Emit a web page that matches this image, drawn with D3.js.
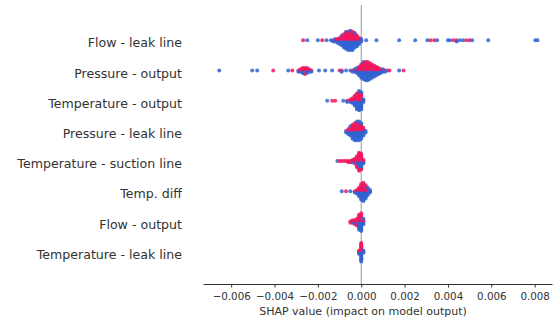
<!DOCTYPE html>
<html><head><meta charset="utf-8">
<script src="https://cdn.jsdelivr.net/npm/d3@7"></script>
<style>body{margin:0;background:#fff}svg{display:block}</style></head>
<body><svg id="c" width="558" height="320"></svg>
<script>
// Feature names (top to bottom)
const features = ["Flow - leak line","Pressure - output","Temperature - output","Pressure - leak line",
  "Temperature - suction line","Temp. diff","Flow - output","Temperature - leak line"];
// Each entry: [SHAP value, number of high-feature-value points (red), number of low-feature-value points (blue)]
const flowLeak = [[-0.00268,1,0],[-0.00249,0,1],[-0.0020,0,1],[-0.0018,1,0],[-0.0016,0,1],[-0.0014,0,1],
  [-0.0013,1,1],[-0.0012,1,2],[-0.0011,2,2],[-0.0010,3,3],[-0.0009,4,5],[-0.0008,6,6],[-0.0007,7,8],
  [-0.0006,8,8],[-0.0005,8,9],[-0.0004,8,8],[-0.0003,6,7],[-0.0002,5,5],[-0.0001,3,3],[0.0000,1,2],
  [0.00023,0,1],[0.0007,0,1],[0.00175,0,1],[0.00249,0,1],[0.00305,0,1],[0.0032,1,0],[0.00337,1,0],
  [0.0035,0,1],[0.0040,0,1],[0.0041,0,1],[0.00425,1,0],[0.0044,1,1],[0.00455,0,1],[0.0047,0,1],
  [0.00485,1,0],[0.0050,1,0],[0.00512,0,1],[0.00586,0,1],[0.00803,0,1],[0.00813,0,1]];
const pressOut = [[-0.00655,0,1],[-0.00503,0,1],[-0.0048,0,1],[-0.00406,1,0],[-0.00337,0,1],[-0.00318,1,0],
  [-0.0029,1,1],[-0.0028,2,1],[-0.0027,3,2],[-0.0026,4,2],[-0.0025,3,2],[-0.0024,2,1],[-0.0023,1,1],
  [-0.00195,0,1],[-0.00166,0,1],[-0.00134,0,1],[-0.0010,1,0],[-0.0009,1,1],[-0.0007,0,1],[-0.0005,0,1],
  [-0.0004,1,1],[-0.0003,1,2],[-0.0002,2,3],[-0.0001,4,4],[0.0000,6,6],[0.0001,7,8],[0.0002,8,8],
  [0.0003,8,8],[0.0004,7,7],[0.0005,6,6],[0.0006,5,5],[0.0007,4,4],[0.0008,3,3],[0.0009,2,2],
  [0.0010,1,2],[0.0011,1,1],[0.0012,0,1],[0.0013,1,0],[0.00175,0,1],[0.00195,1,0]];
const tempOut = [[-0.00157,0,1],[-0.00134,1,0],[-0.0012,1,0],[-0.00083,0,1],[-0.00065,1,1],
  [-0.0005,2,1],[-0.0004,3,2],[-0.0003,5,4],[-0.0002,7,7],[-0.0001,8,9],[0.0000,7,8],[0.0001,1,2]];
const pressLeak = [[-0.0007,0,2],[-0.0006,2,2],[-0.0005,3,4],[-0.0004,5,5],[-0.0003,6,6],[-0.0002,6,7],
  [-0.0001,6,7],[0.0000,5,6],[0.0001,3,3],[0.0002,0,2]];
const tempSuction = [[-0.0011,0,1],[-0.0010,1,0],[-0.0009,1,0],[-0.0008,1,0],[-0.0007,1,0],[-0.0006,2,0],
  [-0.0005,2,0],[-0.0004,2,1],[-0.0003,4,1],[-0.0002,7,3],[-0.0001,10,6],[0.0000,8,6],[0.0001,2,2]];
const tempDiff = [[-0.0009,0,1],[-0.0007,1,0],[-0.0005,0,1],[-0.0003,1,1],[-0.0002,2,2],[-0.0001,4,4],
  [0.0000,7,7],[0.0001,8,8],[0.0002,6,6],[0.0003,3,4],[0.0004,1,2]];
const flowOut = [[-0.0005,2,0],[-0.0004,2,1],[-0.0003,3,1],[-0.0002,4,2],[-0.0001,6,6],[0.0000,7,7],[0.0001,2,3]];
const tempLeak = [[-0.0001,2,2],[0.0000,9,9],[0.0001,1,2]];
const xTicks = [-0.006,-0.004,-0.002,0.000,0.002,0.004,0.006,0.008];
const xTitle = "SHAP value (impact on model output)";

const rows = [flowLeak, pressOut, tempOut, pressLeak, tempSuction, tempDiff, flowOut, tempLeak];
const RED = "#f2175f", BLUE = "#3064d2";

const svg = d3.select("#c");
const x = d3.scaleLinear().domain([-0.0073, 0.0088]).range([203, 552]);
const y = d3.scaleLinear().domain([0, 7]).range([40.3, 251.7]);
const rowH = y(1) - y(0);

// zero line
svg.append("line").attr("x1", x(0)).attr("x2", x(0)).attr("y1", 5).attr("y2", 284)
  .attr("stroke", "#999").attr("stroke-width", 1);

// feature labels
svg.append("g").selectAll("text").data(features).join("text")
  .attr("x", 182).attr("y", (d, i) => y(i) + 2.5)
  .attr("text-anchor", "end").attr("dominant-baseline", "central")
  .attr("font-family", "DejaVu Sans").attr("font-size", 12.6).attr("fill", "#333")
  .text(d => d);

// beeswarm
function swarm(data) {
  const pts = [];
  data.forEach(([v, r, b]) => {
    let i = 0;
    while (r > 0 || b > 0) {
      if ((i % 2 === 0 && r > 0) || b === 0) { pts.push({v, c: 1}); r--; }
      else { pts.push({v, c: 0}); b--; }
      i++;
    }
  });
  const q = p => Math.round(p.v / 0.0001);
  pts.sort((a, b) => q(a) - q(b));
  let layer = 0, last = null;
  pts.forEach(p => {
    const k = q(p);
    if (k !== last) layer = 0;
    p.k = Math.ceil(layer / 2) * ((layer % 2) * 2 - 1);
    layer++; last = k;
  });
  const maxK = d3.max(pts, p => p.k);
  const step = 0.36 * rowH / (maxK + 1);
  pts.forEach(p => p.dy = p.k * step);
  return pts;
}
rows.forEach((data, i) => {
  const pts = swarm(data);
  svg.append("g").selectAll("circle").data(pts).join("circle")
    .attr("cx", d => x(d.v)).attr("cy", d => y(i) + d.dy).attr("r", 2)
    .attr("fill", d => d.c ? RED : BLUE).attr("fill-opacity", 0.85);
});

// x axis
const ax = svg.append("g").attr("transform", "translate(0,284)")
  .call(d3.axisBottom(x).tickValues(xTicks).tickSize(3.5).tickSizeOuter(0).tickPadding(5)
    .tickFormat(d3.format(".3f")));
ax.select(".domain").attr("stroke", "#333");
ax.selectAll(".tick line").attr("stroke", "#333");
ax.selectAll(".tick text").attr("font-family", "DejaVu Sans").attr("font-size", 10.3).attr("fill", "#333");

svg.append("text").attr("x", 363).attr("y", 311).attr("text-anchor", "middle")
  .attr("dominant-baseline", "central")
  .attr("font-family", "DejaVu Sans").attr("font-size", 11).attr("fill", "#333").text(xTitle);
</script></body></html>
